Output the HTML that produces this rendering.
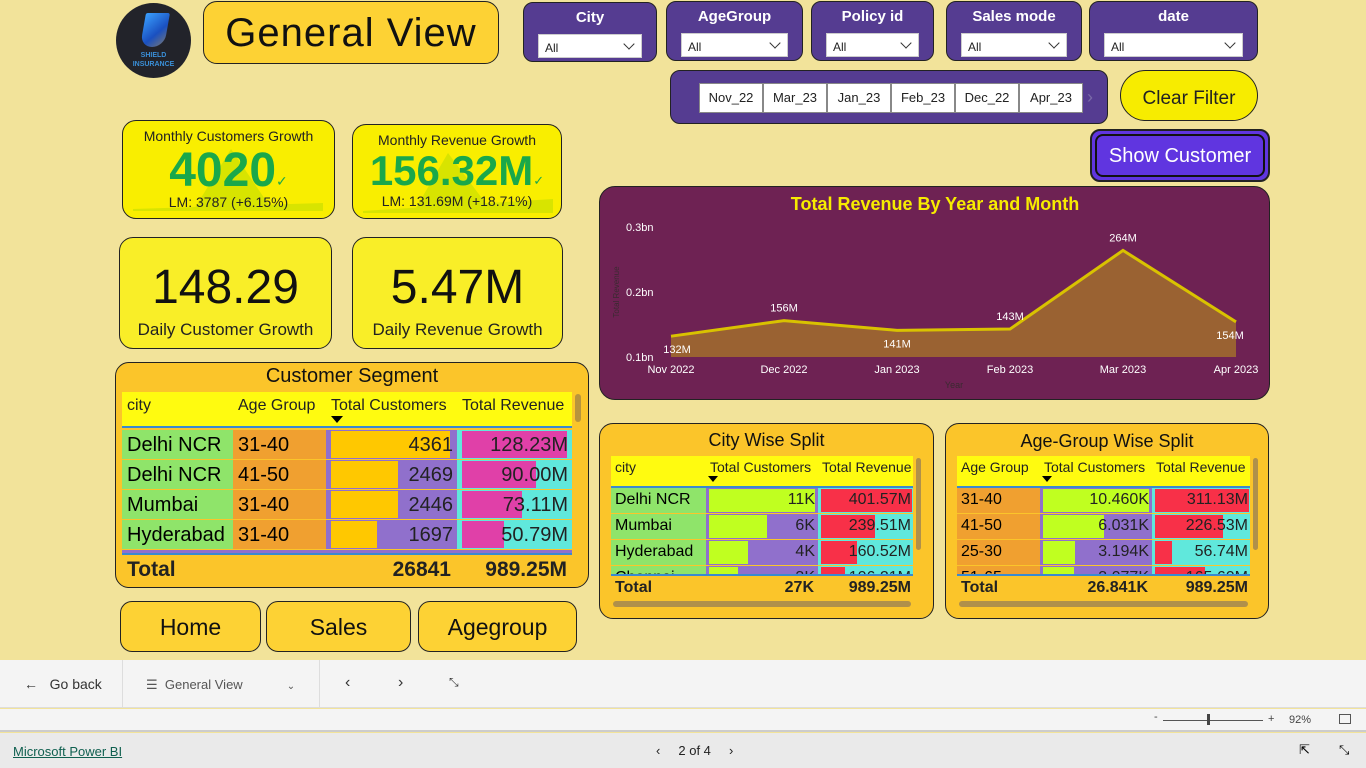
<!DOCTYPE html>
<html><head><meta charset="utf-8">
<style>
*{box-sizing:border-box;margin:0;padding:0}
body{width:1366px;height:768px;overflow:hidden;background:#f2e39a;font-family:"Liberation Sans","DejaVu Sans",sans-serif;position:relative}
.a{position:absolute}
.card{position:absolute;border:1.5px solid #222;border-radius:14px}
.slicer{position:absolute;background:#553c91;border:1.5px solid #222;border-radius:10px;color:#fff;text-align:center;font-weight:bold;font-size:15px}
.slicer .dd{position:absolute;left:14px;right:14px;top:31px;height:24px;background:#fff;color:#222;font-weight:normal;font-size:12px;text-align:left;padding:6px 0 0 6px;border:1px solid #ccc}
.slicer .dd::after{content:"";position:absolute;right:8px;top:5px;width:7px;height:7px;border-right:1.3px solid #333;border-bottom:1.3px solid #333;transform:rotate(45deg)}
.chip{position:absolute;top:12px;width:64px;height:30px;background:#fff;border:1.5px solid #888;font-size:13px;font-weight:normal;color:#222;text-align:center;line-height:28px}
.btn{position:absolute;background:#fdd234;border:1.5px solid #222;border-radius:12px;font-size:23px;text-align:center;color:#111;line-height:50px}
</style></head><body>

<!-- logo -->
<div class="a" style="left:116px;top:3px;width:75px;height:75px;border-radius:50%;background:#22232a;text-align:center">
  <div style="position:absolute;left:27px;top:10px;width:24px;height:34px;background:linear-gradient(135deg,#3aa0ff,#1a50c0 60%,#777);border-radius:2px 2px 12px 12px;transform:skewX(-10deg)"></div>
  <div style="position:absolute;top:48px;width:100%;font-size:7px;font-weight:bold;color:#3a8fd8;line-height:9px">SHIELD<br>INSURANCE</div>
</div>
<div class="card" style="left:203px;top:1px;width:296px;height:63px;background:#fdd234;border-radius:14px;font-size:40px;text-align:center;line-height:62px;color:#111;letter-spacing:1px">General View</div>

<!-- slicers -->
<div class="slicer" style="left:523px;top:2px;width:134px;height:60px"><div style="padding-top:6px">City</div><div class="dd">All</div></div>
<div class="slicer" style="left:666px;top:1px;width:137px;height:60px"><div style="padding-top:6px">AgeGroup</div><div class="dd">All</div></div>
<div class="slicer" style="left:811px;top:1px;width:123px;height:60px"><div style="padding-top:6px">Policy id</div><div class="dd">All</div></div>
<div class="slicer" style="left:946px;top:1px;width:136px;height:60px"><div style="padding-top:6px">Sales mode</div><div class="dd">All</div></div>
<div class="slicer" style="left:1089px;top:1px;width:169px;height:60px"><div style="padding-top:6px">date</div><div class="dd">All</div></div>

<div class="slicer" style="left:670px;top:70px;width:438px;height:54px">
  <div class="chip" style="left:28px">Nov_22</div>
  <div class="chip" style="left:92px">Mar_23</div>
  <div class="chip" style="left:156px">Jan_23</div>
  <div class="chip" style="left:220px">Feb_23</div>
  <div class="chip" style="left:284px">Dec_22</div>
  <div class="chip" style="left:348px">Apr_23</div>
  <div class="a" style="left:416px;top:16px;color:#7a6aa8;font-weight:normal;font-size:18px">›</div>
</div>
<div class="a" style="left:1120px;top:70px;width:138px;height:51px;background:#f7ec00;border:1.5px solid #222;border-radius:26px;font-size:19px;text-align:center;line-height:56px;color:#222">Clear Filter</div>
<div class="a" style="left:1090px;top:129px;width:180px;height:53px;background:#6035e0;border:2px solid #222;border-radius:10px;padding:3px">
  <div style="width:100%;height:100%;border:2px solid #111;border-radius:8px;color:#fff;font-size:20px;text-align:center;line-height:40px">Show Customer</div>
</div>

<!-- KPI cards -->
<div class="card" style="left:122px;top:120px;width:213px;height:99px;background:#f9ee00;text-align:center;overflow:hidden">
  <svg class="a" style="left:0;top:0" width="213" height="99"><polygon points="70,90 108,28 150,90" fill="#d8e400"/><polygon points="10,88 200,82 200,90 10,90" fill="#d8e400"/></svg>
  <div class="a" style="width:100%;top:7px;font-size:14px;color:#222">Monthly Customers Growth</div>
  <div class="a" style="width:100%;top:22px;font-size:48px;font-weight:bold;color:#1aa84a">4020<span style="font-size:14px">✓</span></div>
  <div class="a" style="width:100%;top:73px;font-size:14px;color:#222">LM: 3787 (+6.15%)</div>
</div>
<div class="card" style="left:352px;top:124px;width:210px;height:95px;background:#f9ee00;text-align:center;overflow:hidden">
  <svg class="a" style="left:0;top:0" width="210" height="95"><polygon points="60,88 95,28 140,88" fill="#d8e400"/><polygon points="10,86 200,74 200,88 10,88" fill="#d8e400"/></svg>
  <div class="a" style="width:100%;top:7px;font-size:14px;color:#222">Monthly Revenue Growth</div>
  <div class="a" style="width:100%;top:22px;font-size:42px;font-weight:bold;color:#1aa84a;white-space:nowrap">156.32M<span style="font-size:13px">✓</span></div>
  <div class="a" style="width:100%;top:68px;font-size:14px;color:#222">LM: 131.69M (+18.71%)</div>
</div>
<div class="card" style="left:119px;top:237px;width:213px;height:112px;background:#f9ee28;text-align:center">
  <div class="a" style="width:100%;top:22px;font-size:48px;color:#111">148.29</div>
  <div class="a" style="width:100%;top:82px;font-size:17px;color:#222">Daily Customer Growth</div>
</div>
<div class="card" style="left:352px;top:237px;width:211px;height:112px;background:#f9ee28;text-align:center">
  <div class="a" style="width:100%;top:22px;font-size:48px;color:#111">5.47M</div>
  <div class="a" style="width:100%;top:82px;font-size:17px;color:#222">Daily Revenue Growth</div>
</div>

<!-- Customer Segment -->
<div class="card" style="left:115px;top:362px;width:474px;height:226px;background:#fbc52a"></div>
<div class="a" style="left:115px;top:365px;width:474px;text-align:center;font-size:20px;color:#111">Customer Segment</div>
<div id="seg" class="a" style="left:0;top:0"></div>
<div class="a" style="left:575px;top:394px;width:6px;height:28px;background:#b8943c;border-radius:3px"></div>

<!-- Chart -->
<div class="card" style="left:599px;top:186px;width:671px;height:214px;background:#6e2253;border-radius:16px"></div>
<svg id="chart" class="a" style="left:0;top:0" width="1366" height="420"></svg>

<!-- Split tables -->
<div class="card" style="left:599px;top:423px;width:335px;height:196px;background:#fbc52a"></div>
<div class="a" style="left:599px;top:430px;width:335px;text-align:center;font-size:18px;color:#111">City Wise Split</div>
<div class="card" style="left:945px;top:423px;width:324px;height:196px;background:#fbc52a"></div>
<div class="a" style="left:945px;top:431px;width:324px;text-align:center;font-size:18px;color:#111">Age-Group Wise Split</div>
<div id="split" class="a" style="left:0;top:0"></div>

<!-- nav buttons -->
<div class="btn" style="left:120px;top:601px;width:141px;height:51px">Home</div>
<div class="btn" style="left:266px;top:601px;width:145px;height:51px">Sales</div>
<div class="btn" style="left:418px;top:601px;width:159px;height:51px">Agegroup</div>

<!-- bottom bars -->
<div class="a" style="left:0;top:660px;width:1366px;height:48px;background:#f4f4f4;border-bottom:1px solid #ddd;font-size:14px;color:#333">
  <div class="a" style="left:24px;top:16px">←&nbsp;&nbsp;&nbsp;Go back</div>
  <div class="a" style="left:122px;top:0;width:1px;height:48px;background:#ddd"></div>
  <div class="a" style="left:146px;top:17px;font-size:13px;color:#555">☰&nbsp;&nbsp;General View<span style="margin-left:44px;font-size:10px">⌄</span></div>
  <div class="a" style="left:319px;top:0;width:1px;height:48px;background:#ddd"></div>
  <div class="a" style="left:345px;top:14px;font-size:16px">‹</div>
  <div class="a" style="left:398px;top:14px;font-size:16px">›</div>
  <div class="a" style="left:449px;top:15px;font-size:12px">⤡</div>
</div>
<div class="a" style="left:0;top:709px;width:1366px;height:23px;background:#f4f4f4;border-bottom:2px solid #ccc;font-size:11px;color:#444">
  <div class="a" style="left:1154px;top:2px">-</div>
  <div class="a" style="left:1163px;top:11px;width:100px;height:1px;background:#555"></div>
  <div class="a" style="left:1207px;top:5px;width:3px;height:11px;background:#444"></div>
  <div class="a" style="left:1268px;top:4px">+</div>
  <div class="a" style="left:1289px;top:5px">92%</div>
  <div class="a" style="left:1339px;top:5px;width:12px;height:10px;border:1px solid #555"></div>
</div>
<div class="a" style="left:0;top:733px;width:1366px;height:35px;background:#eaeaea;font-size:13px">
  <div class="a" style="left:13px;top:11px;color:#106050;text-decoration:underline">Microsoft Power BI</div>
  <div class="a" style="left:656px;top:10px;color:#222">‹&nbsp;&nbsp;&nbsp;&nbsp;&nbsp;2 of 4&nbsp;&nbsp;&nbsp;&nbsp;&nbsp;›</div>
  <div class="a" style="left:1299px;top:9px">⇱</div>
  <div class="a" style="left:1339px;top:9px">⤡</div>
</div>

<script>
// ---- chart data ----
const months = ["Nov 2022","Dec 2022","Jan 2023","Feb 2023","Mar 2023","Apr 2023"];
const revenueM = [132,156,141,143,264,154];
const yTicks = [0.1,0.2,0.3];
const yTickLabels = ["0.1bn","0.2bn","0.3bn"];

const svgNS="http://www.w3.org/2000/svg";
const chart=document.getElementById('chart');
const X0=671,X1=1236,Y0=357,Yh=130;
function xs(i){return X0+(X1-X0)*i/(months.length-1);}
function ys(m){return Y0-(m-100)/200*Yh;}
function mk(tag,attrs,text){const e=document.createElementNS(svgNS,tag);for(const k in attrs)e.setAttribute(k,attrs[k]);if(text!==undefined)e.textContent=text;chart.appendChild(e);return e;}

const t=mk('text',{x:935,y:210,'text-anchor':'middle','font-size':18,'font-weight':'bold',fill:'#f7ec00'},'Total Revenue By Year and Month');


yTicks.forEach((v,i)=>{
  const e=mk('text',{x:626,y:ys(v*1000)+4,'font-size':11,fill:'#fff'},yTickLabels[i]);
  
  
});
const yt=mk('text',{x:619,y:292,'font-size':8,fill:'#3a2a30','text-anchor':'middle',transform:'rotate(-90 619 292)'},'Total Revenue');


const xt=mk('text',{x:954,y:388,'font-size':9,fill:'#3a2a30','text-anchor':'middle'},'Year');



let pts=revenueM.map((v,i)=>xs(i)+','+ys(v)).join(' ');
const area=mk('polygon',{points:xs(0)+','+Y0+' '+pts+' '+xs(months.length-1)+','+Y0,fill:'#9a6232'});


const line=mk('polyline',{points:pts,fill:'none',stroke:'#d9c200','stroke-width':3});


const labelBelow=[true,false,true,false,false,true];
months.forEach((m,i)=>{
  const e=mk('text',{x:xs(i),y:373,'font-size':11,fill:'#fff','text-anchor':'middle'},m);
  
  
  const v=revenueM[i];
  const l=mk('text',{x:xs(i)+(i===0?6:(i===5?-6:0)),y:labelBelow[i]?ys(v)+17:ys(v)-9,'font-size':11,fill:'#fff','text-anchor':'middle'},v+'M');
  
  
});

// ---- Customer segment table ----
const segCity=["Delhi NCR","Delhi NCR","Mumbai","Hyderabad"];
const segAge=["31-40","41-50","31-40","31-40"];
const segCust=[4361,2469,2446,1697];
const segRev=[128.23,90.00,73.11,50.79];

const seg=document.getElementById('seg');
function div(parent,style,text){const d=document.createElement('div');d.style.cssText=style;if(text!==undefined)d.textContent=text;parent.appendChild(d);return d;}
let h=div(seg,'position:absolute;left:122px;top:392px;width:450px;height:36px;background:#fffb10;font-size:16px;color:#222;border-bottom:2px solid #3a8ad0');


[["city",5],["Age Group",116],["Total Customers",209],["Total Revenue",340]].forEach(c=>{const e=div(h,'position:absolute;top:5px;left:'+c[1]+'px;white-space:nowrap',c[0]);});
div(h,'position:absolute;left:209px;top:24px;border-left:6px solid transparent;border-right:6px solid transparent;border-top:7px solid #000');
const cMax=Math.max(...segCust), rMax=Math.max(...segRev);
segCity.forEach((c,i)=>{
  const top=430+i*30;
  const row=div(seg,'position:absolute;left:122px;top:'+top+'px;width:450px;height:29px;font-size:20px;line-height:30px;white-space:nowrap');
  
  
  div(row,'position:absolute;left:0;width:111px;height:100%;background:#8fe46a;padding-left:5px;overflow:hidden',c);
  div(row,'position:absolute;left:111px;width:93px;height:100%;background:#f0a030;padding-left:5px',segAge[i]);
  const cc=div(row,'position:absolute;left:204px;width:131px;height:100%;background:#9070cc');
  const b=div(cc,'position:absolute;left:5px;top:1px;bottom:1px;background:#ffc800;width:'+(segCust[i]/cMax*119)+'px');
  
  
  div(cc,'position:absolute;right:4px;top:0;color:#222',String(segCust[i]));
  const rc=div(row,'position:absolute;left:335px;width:115px;height:100%;background:#60e8dc');
  const rb=div(rc,'position:absolute;left:5px;top:1px;bottom:1px;background:#e040a8;width:'+(segRev[i]/rMax*105)+'px');
  
  
  div(rc,'position:absolute;right:4px;top:0;color:#222',segRev[i].toFixed(2)+'M');
});
div(seg,'position:absolute;left:122px;top:550px;width:450px;height:3px;background:#9070cc');
let tot=div(seg,'position:absolute;left:122px;top:553px;width:450px;height:30px;border-top:2px solid #3a8ad0;font-size:21px;font-weight:bold;color:#222;line-height:30px');


div(tot,'position:absolute;left:5px','Total');
div(tot,'position:absolute;right:121px','26841');
div(tot,'position:absolute;right:5px','989.25M');

// ---- split tables ----
const cityNames=["Delhi NCR","Mumbai","Hyderabad","Chennai"];
const cityCust=[11,6,4,3];
const cityCustLabels=["11K","6K","4K","3K"];
const cityRev=[401.57,239.51,160.52,106.21];
const ageNames=["31-40","41-50","25-30","51-65"];
const ageCust=[10.460,6.031,3.194,3.077];
const ageRev=[311.13,226.53,56.74,165.60];

const split=document.getElementById('split');
function splitTable(x,cols,h1,names,cust,custLabels,rev,totC,prefix){
  const W=cols[3]-cols[0];
  const hd=div(split,'position:absolute;left:'+x+'px;top:456px;width:'+W+'px;height:32px;background:#fffb10;font-size:14px;color:#222;border-bottom:2px solid #3a8ad0');
  
  
  [[h1,0],["Total Customers",cols[1]-cols[0]],["Total Revenue",cols[2]-cols[0]]].forEach(c=>{const e=div(hd,'position:absolute;top:3px;left:'+(c[1]+4)+'px;white-space:nowrap',c[0]);});
  div(hd,'position:absolute;left:'+(cols[1]-cols[0]+2)+'px;top:20px;border-left:5px solid transparent;border-right:5px solid transparent;border-top:6px solid #000');
  const cM=Math.max(...cust), rM=Math.max(...rev);
  const wrap=div(split,'position:absolute;left:'+x+'px;top:488px;width:'+W+'px;height:86px;overflow:hidden');
  names.forEach((n,i)=>{
    const row=div(wrap,'position:absolute;left:0;top:'+(i*26)+'px;width:'+W+'px;height:25px;font-size:16px;line-height:24px;white-space:nowrap');
    
    
    div(row,'position:absolute;left:0;width:'+(cols[1]-cols[0])+'px;height:100%;padding-left:4px;background:'+(prefix==='city'?'#8fe46a':'#f0a030'),n);
    const cw=cols[2]-cols[1];
    const cc=div(row,'position:absolute;left:'+(cols[1]-cols[0])+'px;width:'+cw+'px;height:100%;background:#9070cc');
    const b=div(cc,'position:absolute;left:3px;top:1px;bottom:1px;background:#c0ff20;width:'+(cust[i]/cM*(cw-6))+'px');
    
    
    div(cc,'position:absolute;right:3px;top:0;color:#222',custLabels[i]);
    const rw=cols[3]-cols[2];
    const rc=div(row,'position:absolute;left:'+(cols[2]-cols[0])+'px;width:'+rw+'px;height:100%;background:#60e8dc');
    const rb=div(rc,'position:absolute;left:3px;top:1px;bottom:1px;background:#f83048;width:'+(rev[i]/rM*(rw-4))+'px');
    
    
    div(rc,'position:absolute;right:2px;top:0;color:#222',rev[i].toFixed(2)+'M');
  });
  const t=div(split,'position:absolute;left:'+x+'px;top:574px;width:'+W+'px;height:26px;border-top:2px solid #3a8ad0;font-size:16px;font-weight:bold;color:#222;line-height:24px');
  
  
  div(t,'position:absolute;left:4px','Total');
  div(t,'position:absolute;right:'+(cols[3]-cols[2]+4)+'px',totC);
  div(t,'position:absolute;right:2px','989.25M');
  const sb=div(split,'position:absolute;left:'+(x+2)+'px;top:601px;width:'+(W-4)+'px;height:6px;background:#b0904a;border-radius:3px');
  
  
  const vs=div(split,'position:absolute;left:'+(cols[3]+3)+'px;top:458px;width:5px;height:92px;background:#b0904a;border-radius:3px');
  
  
}
splitTable(611,[611,706,818,913],"city",cityNames,cityCust,cityCustLabels,cityRev,"27K","city");
splitTable(957,[957,1040,1152,1250],"Age Group",ageNames,ageCust,ageCust.map(v=>v.toFixed(3)+'K'),ageRev,"26.841K","age");
</script>
</body></html>
